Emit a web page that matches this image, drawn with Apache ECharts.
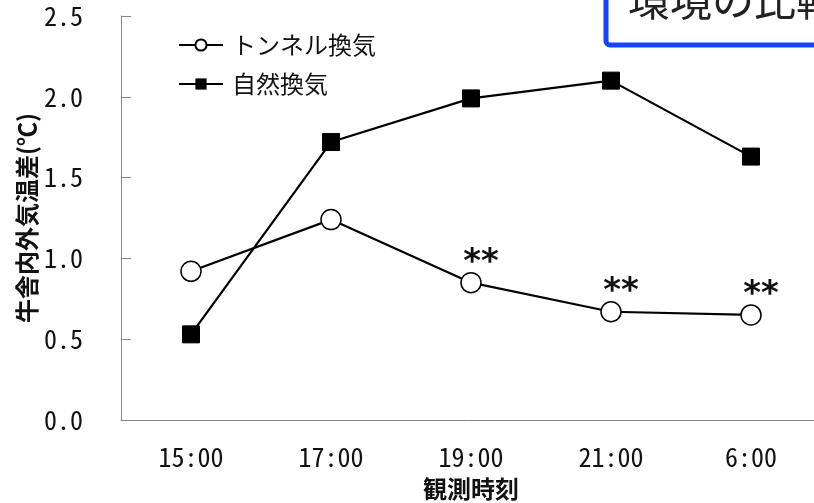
<!DOCTYPE html>
<html>
<head>
<meta charset="utf-8">
<script src="https://cdn.jsdelivr.net/npm/echarts@6/dist/echarts.min.js"></script>
<style>
  html, body { margin: 0; padding: 0; background: #fff; }
  #chart-container { width: 814px; height: 503px; }
</style>
</head>
<body>
<div id="chart-container"></div>
<script>
let categories = ["15:00", "17:00", "19:00", "21:00", "6:00"];
let tunnel = [0.92, 1.24, 0.85, 0.67, 0.65];
let natural = [0.53, 1.72, 1.99, 2.10, 1.63];
let signif = ["", "", "**", "**", "**"];
let yTicks = [0, 0.5, 1.0, 1.5, 2.0, 2.5];

let dom = document.getElementById("chart-container");
let myChart = echarts.init(dom, null, { renderer: "canvas" });

let monoFont = "'Noto Sans Mono CJK JP', 'Noto Sans CJK JP', monospace";

let option = {
    animation: false,
    grid: { left: 121, top: 16, width: 700, height: 404, outerBoundsMode: "none" },
    graphic: [{
        type: "rect",
        shape: { x: 606, y: -40, width: 300, height: 85, r: 4 },
        style: { fill: "#fff", stroke: "#1446ff", lineWidth: 5 },
        z: 10,
    }, {
        type: "text",
        x: 628, y: -21,
        style: { text: "環境の比較", font: "42px 'Noto Sans CJK JP'", fill: "#222" },
        z: 11,
    }],
    legend: {
        orient: "vertical",
        left: 173,
        top: 28,
        itemWidth: 44,
        itemHeight: 14,
        itemGap: 15,
        textStyle: { fontSize: 24, color: "#111", fontFamily: "Noto Sans CJK JP", padding: [0, 0, 0, 4] },
        data: ["トンネル換気", "自然換気"],
    },
    xAxis: {
        type: "category",
        data: categories,
        boundaryGap: true,
        axisLine: { lineStyle: { color: "#888", width: 1 } },
        axisTick: { show: false },
        axisLabel: { margin: 24, fontSize: 26, color: "#111", fontFamily: monoFont },
        name: "観測時刻",
        nameLocation: "middle",
        nameGap: 57,
        nameMoveOverlap: false,
        nameTextStyle: { fontSize: 24, fontWeight: "bold", color: "#111", fontFamily: "Noto Sans CJK JP" },
    },
    yAxis: {
        type: "value",
        min: yTicks[0],
        max: yTicks[yTicks.length - 1],
        interval: 0.5,
        splitLine: { show: false },
        axisLine: { show: true, lineStyle: { color: "#888", width: 1 } },
        axisTick: { show: true, inside: true, length: 10, lineStyle: { color: "#888" } },
        axisLabel: {
            margin: 38, fontSize: 26, color: "#111", fontFamily: monoFont,
            formatter: (v) => v.toFixed(1),
        },
        name: "牛舎内外気温差(℃)",
        nameLocation: "middle",
        nameRotate: 90,
        nameGap: 82,
        nameMoveOverlap: false,
        nameTextStyle: { fontSize: 24, fontWeight: "bold", color: "#111", fontFamily: "Noto Sans CJK JP" },
    },
    series: [{
        name: "トンネル換気",
        type: "line",
        data: tunnel.map((v, i) => ({
            value: v,
            label: {
                show: signif[i] !== "",
                formatter: signif[i],
                position: "top",
                distance: 0,
                offset: [10, 8],
                fontSize: 34,
                fontWeight: "bold",
                fontFamily: "DejaVu Sans",
                color: "#111",
            },
        })),
        symbol: "circle",
        symbolSize: 20,
        itemStyle: { color: "#fff", borderColor: "#000", borderWidth: 1.5 },
        lineStyle: { color: "#000", width: 2.2 },
        z: 3,
    }, {
        name: "自然換気",
        type: "line",
        data: natural,
        symbol: "rect",
        symbolSize: 17,
        itemStyle: { color: "#000", borderColor: "#000" },
        lineStyle: { color: "#000", width: 2.2 },
        z: 2,
    }],
};

myChart.setOption(option);
window.addEventListener("resize", myChart.resize);
</script>
</body>
</html>
